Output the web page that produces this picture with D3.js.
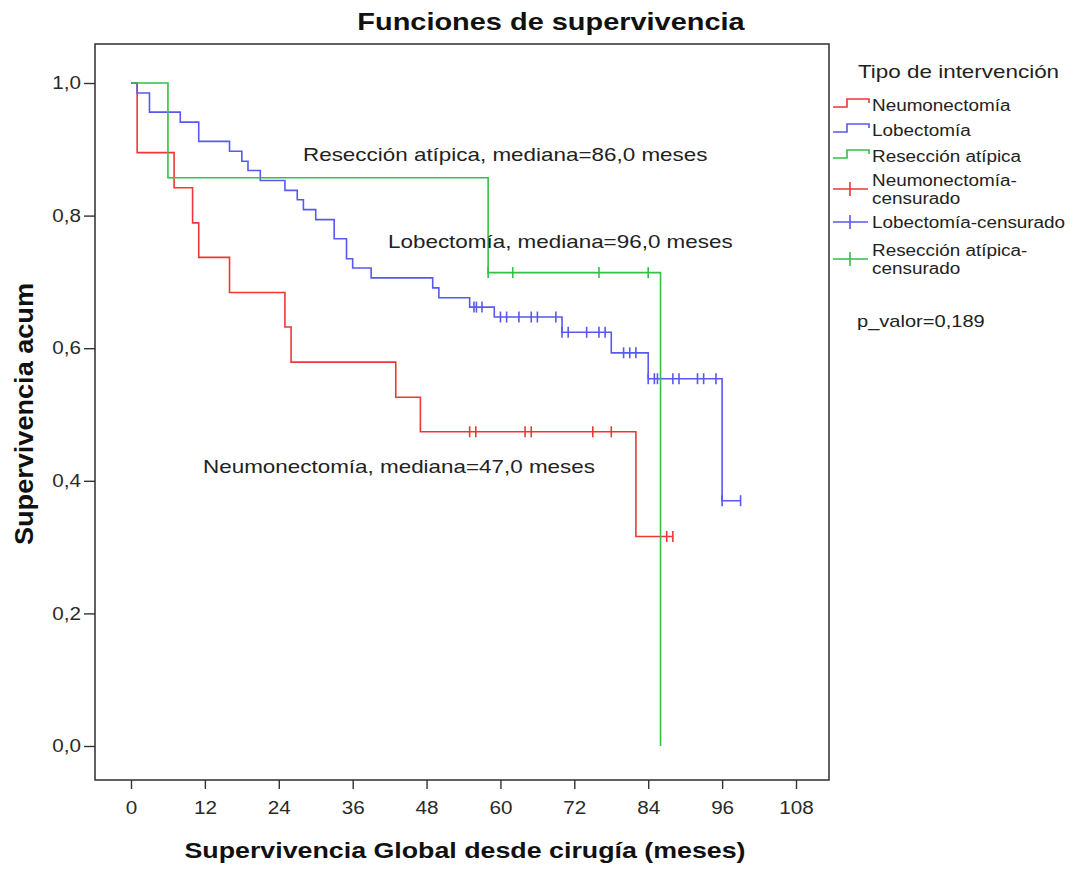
<!DOCTYPE html>
<html>
<head>
<meta charset="utf-8">
<script src="https://cdn.jsdelivr.net/npm/d3@7"></script>
<style>
body { margin: 0; background: #fff; }
svg { display: block; font-family: "Liberation Sans", Arial, sans-serif; }
</style>
</head>
<body>
<div id="chart"></div>
<script>
// valores (Kaplan-Meier, SPSS)
var grupos = ["Neumonectomía", "Lobectomía", "Resección atípica"]
var colores = ["#ee3636", "#5858f2", "#36bf45"]

var neumoTiempos = [0, 1, 7, 10, 11, 16, 25, 26, 43, 47, 82]
var neumoSuperv = [1, 0.895, 0.842, 0.789, 0.737, 0.684, 0.632, 0.579, 0.526, 0.474, 0.316]
var neumoCensura = [55, 56, 64, 65, 75, 78, 87, 88]

var lobeTiempos = [0, 1, 3, 8, 11, 16, 18, 19, 21, 25, 27, 28, 30, 33, 35, 36, 39, 49, 50, 55, 59, 70, 78, 84, 96]
var lobeSuperv = [1, 0.985, 0.956, 0.941, 0.912, 0.897, 0.882, 0.868, 0.853, 0.838, 0.824, 0.809, 0.794, 0.765, 0.735, 0.721, 0.706, 0.691, 0.676, 0.662, 0.647, 0.624, 0.593, 0.554, 0.370]
var lobeCensura = [55.7, 56.1, 57, 60, 61, 63, 65, 66, 69, 70, 71, 74, 76, 77, 80, 81, 82, 84, 85, 85.5, 88, 89, 92, 93, 95, 96, 99]

var atipTiempos = [0, 6, 58, 86]
var atipSuperv = [1, 0.857, 0.714, 0]
var atipCensura = [58, 62, 76, 84]

var medianas = ["Resección atípica, mediana=86,0 meses", "Lobectomía, mediana=96,0 meses", "Neumonectomía, mediana=47,0 meses"]

var xTicks = [0, 12, 24, 36, 48, 60, 72, 84, 96, 108]
var yTicks = [0, 0.2, 0.4, 0.6, 0.8, 1.0]

var titulo = "Funciones de supervivencia"
var tituloX = "Supervivencia Global desde cirugía (meses)"
var tituloY = "Supervivencia acum"
var tituloLeyenda = "Tipo de intervención"
var etiquetasLeyenda = [["Neumonectomía"], ["Lobectomía"], ["Resección atípica"],
    ["Neumonectomía-", "censurado"], ["Lobectomía-censurado"], ["Resección atípica-", "censurado"]]
var pValor = "p_valor=0,189"

var W = 1080, H = 871
var SX = 1.18   // el grafico original esta estirado en horizontal

var svg = d3.select("#chart").append("svg")
    .attr("width", W).attr("height", H)

var x = d3.scaleLinear().domain([0, 108]).range([131, 796])
var y = d3.scaleLinear().domain([0, 1]).range([746, 83])

function ensanchar(sel, f) {
    sel.each(function() {
        var l = this.getComputedTextLength()
        d3.select(this).attr("textLength", l * f).attr("lengthAdjust", "spacingAndGlyphs")
    })
}

// marco
svg.append("rect")
    .attr("x", 95).attr("y", 44).attr("width", 734).attr("height", 736)
    .attr("fill", "none").attr("stroke", "#3a3a3a").attr("stroke-width", 1.6)

// ejes
var ejeY = svg.append("g").attr("transform", "translate(95,0)")
    .call(d3.axisLeft(y).tickValues(yTicks).tickSize(11).tickPadding(3)
        .tickFormat(function(d) { return d3.format(".1f")(d).replace(".", ",") }))
ejeY.select(".domain").remove()
ejeY.selectAll("line").attr("stroke", "#333").attr("stroke-width", 1.4)
ejeY.selectAll("text").attr("font-size", 17.5).attr("fill", "#2a2a2a")
    .attr("font-family", "Liberation Sans, Arial, sans-serif")
ensanchar(ejeY.selectAll("text"), SX)

var ejeX = svg.append("g").attr("transform", "translate(0,780)")
    .call(d3.axisBottom(x).tickValues(xTicks).tickSize(9).tickPadding(13))
ejeX.select(".domain").remove()
ejeX.selectAll("line").attr("stroke", "#333").attr("stroke-width", 1.4)
ejeX.selectAll("text").attr("font-size", 17.5).attr("fill", "#2a2a2a")
    .attr("font-family", "Liberation Sans, Arial, sans-serif")
ensanchar(ejeX.selectAll("text"), SX)

// curvas
var series = [
    {t: neumoTiempos, s: neumoSuperv, c: neumoCensura},
    {t: lobeTiempos, s: lobeSuperv, c: lobeCensura},
    {t: atipTiempos, s: atipSuperv, c: atipCensura}
]

function supervEn(serie, t) {
    var v = serie.s[0]
    for (var i = 0; i < serie.t.length; i++) if (serie.t[i] <= t) v = serie.s[i]
    return v
}

var linea = d3.line()
    .x(function(d) { return x(d[0]) })
    .y(function(d) { return y(d[1]) })
    .curve(d3.curveStepAfter)

series.forEach(function(serie, i) {
    var pts = serie.t.map(function(t, j) { return [t, serie.s[j]] })
    var fin = d3.max(serie.c)
    var ultimo = serie.t[serie.t.length - 1]
    if (fin > ultimo) pts.push([fin, serie.s[serie.s.length - 1]])

    svg.append("path")
        .attr("d", linea(pts))
        .attr("fill", "none")
        .attr("stroke", colores[i])
        .attr("stroke-width", 1.6)

    svg.selectAll(".cens" + i)
        .data(serie.c)
        .enter().append("line")
        .attr("class", "cens" + i)
        .attr("x1", function(d) { return x(d) })
        .attr("x2", function(d) { return x(d) })
        .attr("y1", function(d) { return y(supervEn(serie, d)) - 5.5 })
        .attr("y2", function(d) { return y(supervEn(serie, d)) + 5.5 })
        .attr("stroke", colores[i])
        .attr("stroke-width", 1.6)
})

// medianas
var posMediana = [[303, 161, "start"], [388, 248, "start"], [595, 473, "end"]]
medianas.forEach(function(txt, i) {
    var t = svg.append("text")
        .attr("x", posMediana[i][0]).attr("y", posMediana[i][1])
        .attr("text-anchor", posMediana[i][2])
        .attr("font-size", 19).attr("fill", "#222")
        .text(txt)
    ensanchar(t, SX)
})

// titulos
ensanchar(svg.append("text")
    .attr("x", 551).attr("y", 30).attr("text-anchor", "middle")
    .attr("font-size", 24.5).attr("font-weight", "bold").attr("fill", "#111")
    .text(titulo), SX)

ensanchar(svg.append("text")
    .attr("x", 465).attr("y", 858).attr("text-anchor", "middle")
    .attr("font-size", 22.5).attr("font-weight", "bold").attr("fill", "#111")
    .text(tituloX), 1.19)

svg.append("text")
    .attr("transform", "translate(33,414) rotate(-90)")
    .attr("text-anchor", "middle")
    .attr("font-size", 25).attr("font-weight", "bold").attr("fill", "#111")
    .attr("textLength", 262).attr("lengthAdjust", "spacingAndGlyphs")
    .text(tituloY)

// leyenda
ensanchar(svg.append("text")
    .attr("x", 858).attr("y", 78)
    .attr("font-size", 19).attr("fill", "#222")
    .text(tituloLeyenda), SX)

var filasTexto = [[105], [130], [156], [180, 198], [222], [250, 268]]
var filasSimbolo = [105, 130, 156, 189, 222, 259]
var leyenda = svg.append("g")

etiquetasLeyenda.forEach(function(lineas, i) {
    var col = colores[i % 3]
    var yy = filasSimbolo[i]
    if (i < 3) {
        leyenda.append("path")
            .attr("d", "M833," + (yy + 2) + "H847V" + (yy - 6) + "H869V" + (yy - 2))
            .attr("fill", "none").attr("stroke", col).attr("stroke-width", 1.6)
    } else {
        leyenda.append("path")
            .attr("d", "M833," + yy + "H868M850," + (yy - 7) + "V" + (yy + 7))
            .attr("fill", "none").attr("stroke", col).attr("stroke-width", 1.6)
    }
    lineas.forEach(function(l, k) {
        ensanchar(leyenda.append("text")
            .attr("x", 872).attr("y", filasTexto[i][k]).attr("dy", "0.36em")
            .attr("font-size", 16).attr("fill", "#222")
            .text(l), SX)
    })
})

ensanchar(svg.append("text")
    .attr("x", 857).attr("y", 321).attr("dy", "0.36em")
    .attr("font-size", 17).attr("fill", "#222")
    .text(pValor), SX)
</script>
</body>
</html>
